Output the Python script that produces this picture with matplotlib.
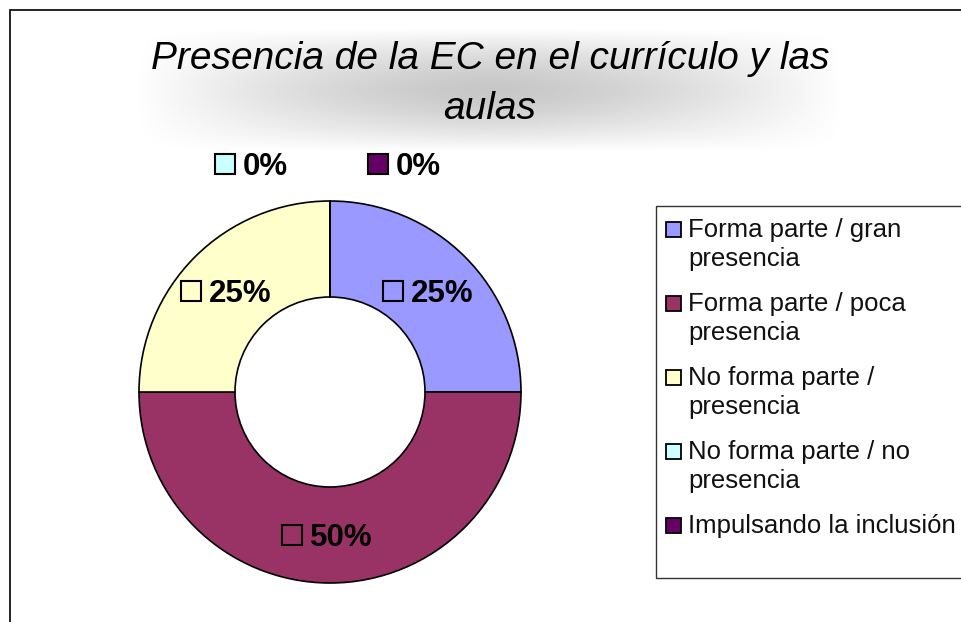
import matplotlib
matplotlib.use("Agg")
import matplotlib.pyplot as plt
import numpy as np
from matplotlib.patches import Rectangle

# ---------------- data ----------------
categories = ["Forma parte / gran presencia",
              "Forma parte / poca presencia",
              "No forma parte / presencia",
              "No forma parte / no presencia",
              "Impulsando la inclusión"]
legend_labels = ["Forma parte / gran\npresencia",
                 "Forma parte / poca\npresencia",
                 "No forma parte /\npresencia",
                 "No forma parte / no\npresencia",
                 "Impulsando la inclusión"]
values = [25, 50, 25, 0, 0]
colors = ["#9999FF", "#993366", "#FFFFCC", "#CCFFFF", "#660066"]
title = "Presencia de la EC en el currículo y las\naulas"

plt.rcParams["font.family"] = ["Liberation Sans", "DejaVu Sans"]

W, H = 962, 622
fig = plt.figure(figsize=(W / 100, H / 100), dpi=100)
fig.patch.set_facecolor("white")


def fx(px):
    return px / W


def fy(py):
    return 1 - py / H


# chart-area border (top and left visible)
fig.add_artist(Rectangle((fx(9.5), fy(700)), fx(1100), (700 - 10) / H,
                         transform=fig.transFigure, facecolor="none",
                         edgecolor="black", linewidth=1.2))

# title gradient background
gx0, gx1, gy0, gy1 = 135, 845, 28, 152
gax = fig.add_axes([fx(gx0), fy(gy1), fx(gx1 - gx0), (gy1 - gy0) / H])
gax.set_axis_off()
xs = np.linspace(-1, 1, 400)
ys = np.linspace(-1, 1, 120)
U, V = np.meshgrid(xs, ys)
g = np.clip(1 - np.abs(U) ** 1.5, 0, 1) * np.clip(1 - np.abs(V) ** 1.6, 0, 1)
shade = 1 - 0.22 * g
gax.imshow(shade, cmap="gray", vmin=0, vmax=1, aspect="auto",
           extent=[0, 1, 0, 1], interpolation="bilinear")

fig.text(fx(490), fy(84), title, ha="center", va="center",
         fontsize=28, style="italic", linespacing=1.5, color="black")

# ---------------- donut ----------------
cx, cy, R = 330, 392, 191
ax = fig.add_axes([fx(cx - 200), fy(cy + 200), fx(400), 400 / H])
wedges, _ = ax.pie(values, colors=colors, startangle=90, counterclock=False,
                   radius=R, wedgeprops=dict(width=R - 95, edgecolor="black",
                                             linewidth=1.2))
ax.set_xlim(-200, 200)
ax.set_ylim(-200, 200)
ax.set_aspect("equal")
ax.set_axis_off()

total = sum(values)
zero_label_pos = [(-115, 228), (38, 228)]
zi = 0
angle = 90.0
box = 20
for v, c in zip(values, colors):
    pct = f"{v / total * 100:.0f}%"
    sweep = v / total * 360
    mid = np.deg2rad(angle - sweep / 2)
    angle -= sweep
    if v > 0:
        rm = (R + 95) / 2
        ax_, ay_ = rm * np.cos(mid), rm * np.sin(mid)
        left = ax_ - 48
        face = "none"
    else:
        left, ay_ = zero_label_pos[zi]
        zi += 1
        face = c
    ax.add_patch(Rectangle((left, ay_ - box / 2), box, box, facecolor=face,
                           edgecolor="black", linewidth=1.5, zorder=5,
                           clip_on=False))
    ax.text(left + box + 8, ay_ - 11, pct, ha="left", va="baseline",
            fontsize=22.5, fontweight="bold", zorder=5, clip_on=False)

# ---------------- legend ----------------
lax = fig.add_axes([0, 0, 1, 1], facecolor="none")
lax.set_xlim(0, W)
lax.set_ylim(H, 0)
lax.set_axis_off()
lax.add_patch(Rectangle((656, 206), 400, 578 - 206, facecolor="none",
                        edgecolor="#333333", linewidth=1.0))
for i, (lab, c) in enumerate(zip(legend_labels, colors)):
    yc = 229 + 74 * i
    lax.add_patch(Rectangle((666, yc - 7.5), 15, 15, facecolor=c,
                            edgecolor="black", linewidth=1.3))
    lax.text(688, yc - 11, lab, ha="left", va="top", fontsize=18.5,
             linespacing=1.27, color="#111111")

fig.savefig("out.png", dpi=100)
